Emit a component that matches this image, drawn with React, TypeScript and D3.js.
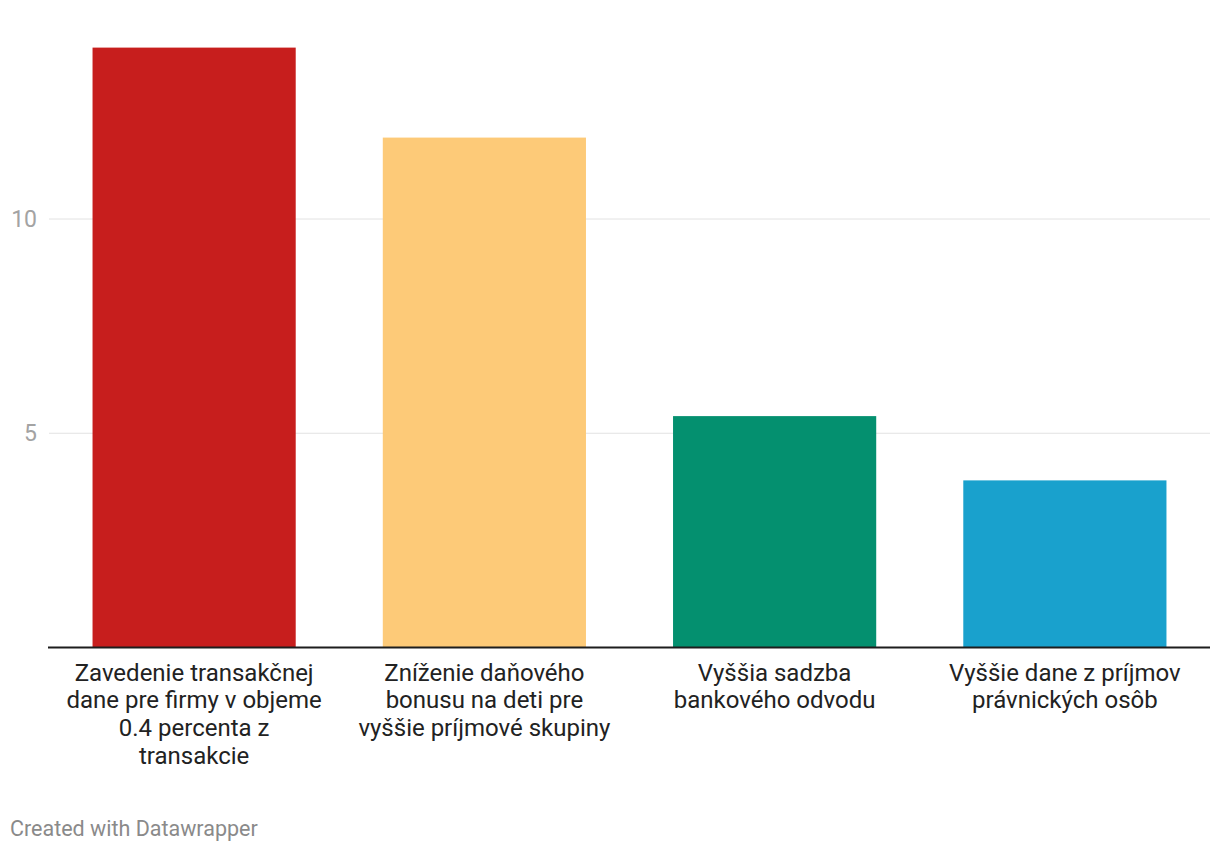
import React from "react";
import * as d3 from "d3";

const categories = [
  ["Zavedenie transakčnej", "dane pre firmy v objeme", "0.4 percenta z", "transakcie"],
  ["Zníženie daňového", "bonusu na deti pre", "vyššie príjmové skupiny"],
  ["Vyššia sadzba", "bankového odvodu"],
  ["Vyššie dane z príjmov", "právnických osôb"],
];
const values = [14, 11.9, 5.4, 3.9];
const colors = ["#c71e1d", "#fdca78", "#04906f", "#19a1cd"];
const yTicks = [5, 10];

const W = 1220;
const H = 852;

export default function App() {
  const ids = categories.map((_, i) => String(i));
  const x = d3.scaleBand<string>().domain(ids).range([49, 1210]).paddingInner(0.3).paddingOuter(0.15);
  const y = d3.scaleLinear().domain([0, 14]).range([647.5, 47.6]);
  const font = "Roboto, sans-serif";
  return (
    <svg width={W} height={H} style={{ position: "absolute", left: 0, top: 0, background: "#fff" }}>
      {yTicks.map((t) => (
        <g key={t}>
          <line x1={49} x2={1210} y1={y(t)} y2={y(t)} stroke="#e2e2e2" strokeWidth={1} />
          <text x={37} y={y(t)} dy="0.35em" textAnchor="end" fontFamily={font} fontSize={23} fill="#a3a3a3">
            {t}
          </text>
        </g>
      ))}
      {values.map((v, i) => (
        <rect key={i} x={x(ids[i])} y={y(v)} width={x.bandwidth()} height={y(0) - y(v)} fill={colors[i]} />
      ))}
      <line x1={48} x2={1210} y1={y(0)} y2={y(0)} stroke="#1d1d1d" strokeWidth={2} />
      {categories.map((lines, i) => (
        <text key={i} textAnchor="middle" fontFamily={font} fontSize={24} fill="#222">
          {lines.map((l, j) => (
            <tspan key={j} x={(x(ids[i]) as number) + x.bandwidth() / 2} y={680.5 + j * 27.7}>
              {l}
            </tspan>
          ))}
        </text>
      ))}
      <text x={10} y={836} fontFamily={font} fontSize={21.5} fill="#8a8a8a">
        Created with Datawrapper
      </text>
    </svg>
  );
}
